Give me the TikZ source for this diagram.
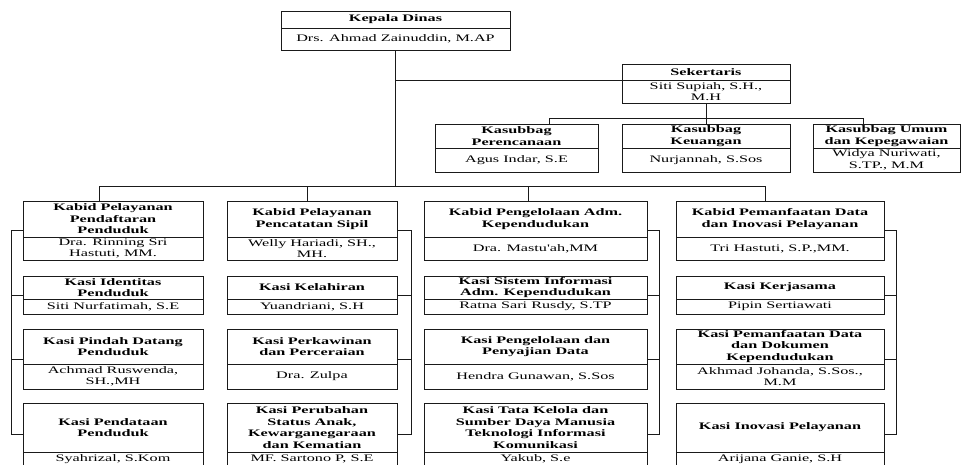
\documentclass[tikz,border=0pt]{standalone}
\usepackage{fontspec}
\newfontfamily\orgfont{Liberation Serif}[FakeStretch=1.62]
\usepackage{tikz}
\usetikzlibrary{positioning,calc}
\definecolor{OrgLine}{HTML}{1A1A1A}

\begin{document}
\begin{tikzpicture}[
	x=1pt, y=-1pt,
	line width=1pt,
	box/.style={draw=OrgLine, align=center, inner sep=1pt, outer sep=0pt,
		font={\orgfont\fontsize{10pt}{11.5pt}\selectfont}},
	head/.style={box, font={\orgfont\bfseries\fontsize{10pt}{11.5pt}\selectfont}},
	who/.style={box},
	link/.style={draw=OrgLine},
	colA/.style={minimum width=180pt},
	colB/.style={minimum width=170pt},
	colC/.style={minimum width=223pt},
	colD/.style={minimum width=208pt},
	kabT/.style={minimum height=36pt},
	kabN/.style={minimum height=23pt},
	sAT/.style={minimum height=23pt},
	sAN/.style={minimum height=15pt},
	sBT/.style={minimum height=35pt},
	sBN/.style={minimum height=25pt},
	sCT/.style={minimum height=49pt},
	sCN/.style={minimum height=14pt}
]
\useasboundingbox (0,0) rectangle (962,464);
\clip (0,0) rectangle (962,464);

% top
\node[head, anchor=north west, minimum width=229pt, minimum height=17pt] (kadis) at (281,11) {Kepala Dinas};
\node[who, below=0pt of kadis, minimum width=229pt, minimum height=22pt] (kadisN) {Drs. Ahmad Zainuddin, M.AP};

\node[head, anchor=north west, minimum width=168pt, minimum height=16pt] (sekr) at (622,64) {Sekertaris};
\node[who, below=0pt of sekr, minimum width=168pt, minimum height=23pt] (sekrN) {Siti Supiah, S.H.,\\M.H};

\node[head, anchor=north west, minimum width=163pt, minimum height=24pt] (kbPr) at (435,124) {Kasubbag\\Perencanaan};
\node[who, below=0pt of kbPr, minimum width=163pt, minimum height=24pt] (kbPrN) {Agus Indar, S.E};
\node[head, anchor=north west, minimum width=168pt, minimum height=24pt] (kbKu) at (622,124) {Kasubbag\\Keuangan};
\node[who, below=0pt of kbKu, minimum width=168pt, minimum height=24pt] (kbKuN) {Nurjannah, S.Sos};
\node[head, anchor=north west, minimum width=147pt, minimum height=24pt] (kbUm) at (813,124) {Kasubbag Umum\\dan Kepegawaian};
\node[who, below=0pt of kbUm, minimum width=147pt, minimum height=24pt] (kbUmN) {Widya Nuriwati,\\S.TP., M.M};

% bidang pendaftaran
\node[head, colA, kabT, anchor=north west] (pdKab) at (23,201) {Kabid Pelayanan\\Pendaftaran\\Penduduk};
\node[who, colA, kabN, below=0pt of pdKab] (pdKabN) {Dra. Rinning Sri\\Hastuti, MM.};
\node[head, colA, sAT, below=16pt of pdKabN] (pdIdn) {Kasi Identitas\\Penduduk};
\node[who, colA, sAN, below=0pt of pdIdn] (pdIdnN) {Siti Nurfatimah, S.E};
\node[head, colA, sBT, below=15pt of pdIdnN] (pdPin) {Kasi Pindah Datang\\Penduduk};
\node[who, colA, sBN, below=0pt of pdPin] (pdPinN) {Achmad Ruswenda,\\SH.,MH};
\node[head, colA, sCT, below=14pt of pdPinN] (pdDat) {Kasi Pendataan\\Penduduk};
\node[who, colA, sCN, below=0pt of pdDat] (pdDatN) {Syahrizal, S.Kom};

% bidang pencatatan sipil
\node[head, colB, kabT, anchor=north west] (csKab) at (227,201) {Kabid Pelayanan\\Pencatatan Sipil};
\node[who, colB, kabN, below=0pt of csKab] (csKabN) {Welly Hariadi, SH.,\\MH.};
\node[head, colB, sAT, below=16pt of csKabN] (csLhr) {Kasi Kelahiran};
\node[who, colB, sAN, below=0pt of csLhr] (csLhrN) {Yuandriani, S.H};
\node[head, colB, sBT, below=15pt of csLhrN] (csKwn) {Kasi Perkawinan\\dan Perceraian};
\node[who, colB, sBN, below=0pt of csKwn] (csKwnN) {Dra. Zulpa};
\node[head, colB, sCT, below=14pt of csKwnN] (csUbh) {Kasi Perubahan\\Status Anak,\\Kewarganegaraan\\dan Kematian};
\node[who, colB, sCN, below=0pt of csUbh] (csUbhN) {MF. Sartono P, S.E};

% bidang adm. kependudukan
\node[head, colC, kabT, anchor=north west] (akKab) at (424,201) {Kabid Pengelolaan Adm.\\Kependudukan};
\node[who, colC, kabN, below=0pt of akKab] (akKabN) {Dra. Mastu'ah,MM};
\node[head, colC, sAT, below=16pt of akKabN] (akSis) {Kasi Sistem Informasi\\Adm. Kependudukan};
\node[who, colC, sAN, below=0pt of akSis] (akSisN) {Ratna Sari Rusdy, S.TP};
\node[head, colC, sBT, below=15pt of akSisN] (akSaj) {Kasi Pengelolaan dan\\Penyajian Data};
\node[who, colC, sBN, below=0pt of akSaj] (akSajN) {Hendra Gunawan, S.Sos};
\node[head, colC, sCT, below=14pt of akSajN] (akTkl) {Kasi Tata Kelola dan\\Sumber Daya Manusia\\Teknologi Informasi\\Komunikasi};
\node[who, colC, sCN, below=0pt of akTkl] (akTklN) {Yakub, S.e};

% bidang pemanfaatan data
\node[head, colD, kabT, anchor=north west] (piKab) at (676,201) {Kabid Pemanfaatan Data\\dan Inovasi Pelayanan};
\node[who, colD, kabN, below=0pt of piKab] (piKabN) {Tri Hastuti, S.P.,MM.};
\node[head, colD, sAT, below=16pt of piKabN] (piKrj) {Kasi Kerjasama};
\node[who, colD, sAN, below=0pt of piKrj] (piKrjN) {Pipin Sertiawati};
\node[head, colD, sBT, below=15pt of piKrjN] (piDok) {Kasi Pemanfaatan Data\\dan Dokumen\\Kependudukan};
\node[who, colD, sBN, below=0pt of piDok] (piDokN) {Akhmad Johanda, S.Sos.,\\M.M};
\node[head, colD, sCT, below=14pt of piDokN] (piIno) {Kasi Inovasi Pelayanan};
\node[who, colD, sCN, below=0pt of piIno] (piInoN) {Arijana Ganie, S.H};

% garis komando
\draw[link] (kadisN.south) -- ++(0,136);
\draw[link] (kadisN.south |- sekrN.north west) -- (sekrN.north west);
\draw[link] (sekrN.south) -- (kbKu.north);
\draw[link] ([xshift=33pt]kbPr.north) -- ++(0,-6) -| ([xshift=-23pt]kbUm.north);

\draw[link] ([xshift=-14pt]pdKab.north) -- ++(0,-15) -| ([xshift=-15pt]piKab.north);
\draw[link] ([xshift=-5pt]csKab.north) -- ++(0,-15);
\draw[link] ([xshift=-7pt]akKab.north) -- ++(0,-15);

\draw[link] ($(pdKab.north west)!.5!(pdKabN.south west)$) -- ++(-12,0) |- ($(pdDat.north west)!.5!(pdDatN.south west)$);
\draw[link] ($(pdIdn.north west)!.5!(pdIdnN.south west)$) -- ++(-12,0);
\draw[link] ($(pdPin.north west)!.5!(pdPinN.south west)$) -- ++(-12,0);

\draw[link] ($(csKab.north east)!.5!(csKabN.south east)$) -- ++(14,0) |- ($(csUbh.north east)!.5!(csUbhN.south east)$);
\draw[link] ($(csLhr.north east)!.5!(csLhrN.south east)$) -- ++(14,0);
\draw[link] ($(csKwn.north east)!.5!(csKwnN.south east)$) -- ++(14,0);

\draw[link] ($(akKab.north east)!.5!(akKabN.south east)$) -- ++(12,0) |- ($(akTkl.north east)!.5!(akTklN.south east)$);
\draw[link] ($(akSis.north east)!.5!(akSisN.south east)$) -- ++(12,0);
\draw[link] ($(akSaj.north east)!.5!(akSajN.south east)$) -- ++(12,0);

\draw[link] ($(piKab.north east)!.5!(piKabN.south east)$) -- ++(12,0) |- ($(piIno.north east)!.5!(piInoN.south east)$);
\draw[link] ($(piKrj.north east)!.5!(piKrjN.south east)$) -- ++(12,0);
\draw[link] ($(piDok.north east)!.5!(piDokN.south east)$) -- ++(12,0);
\end{tikzpicture}
\end{document}
